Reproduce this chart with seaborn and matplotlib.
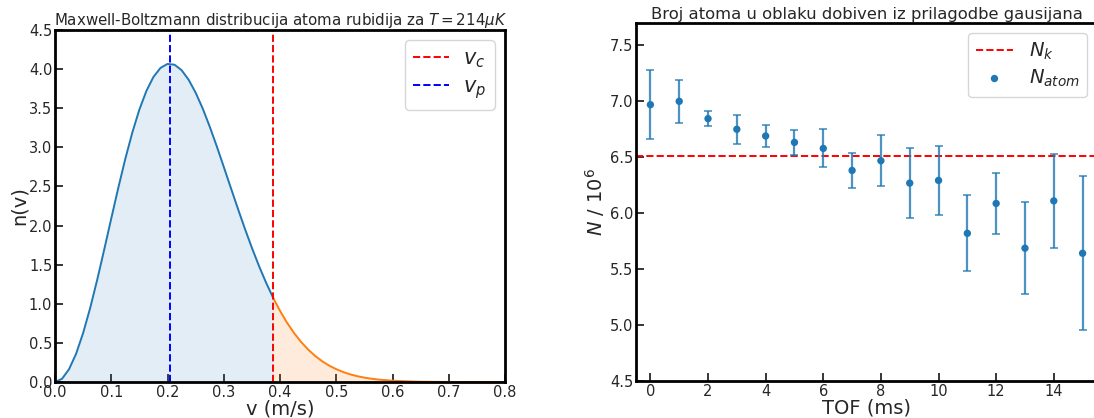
import numpy as np
import pandas as pd
import seaborn as sns
import matplotlib.pyplot as plt

# Maxwell-Boltzmann curve, values
v = [0.0, 0.0125, 0.025, 0.0375, 0.05, 0.0625, 0.075, 0.0875, 0.1, 0.1125,
     0.125, 0.1375, 0.15, 0.1625, 0.175, 0.1875, 0.2, 0.2125, 0.225, 0.2375,
     0.25, 0.2625, 0.275, 0.2875, 0.3, 0.3125, 0.325, 0.3375, 0.35, 0.3625,
     0.375, 0.388]
n_v = [0.0, 0.041, 0.164, 0.361, 0.626, 0.945, 1.306, 1.693, 2.090, 2.482,
       2.853, 3.190, 3.483, 3.721, 3.900, 4.015, 4.066, 4.056, 3.987, 3.865,
       3.699, 3.498, 3.266, 3.015, 2.751, 2.484, 2.219, 1.961, 1.716, 1.486,
       1.274, 1.074]
v_tail = [0.388, 0.4, 0.4125, 0.425, 0.4375, 0.45, 0.4625, 0.475, 0.4875,
          0.5, 0.5125, 0.525, 0.5375, 0.55, 0.5625, 0.575, 0.6, 0.625, 0.65,
          0.675, 0.7, 0.725, 0.75, 0.775, 0.8]
n_tail = [1.074, 0.910, 0.758, 0.626, 0.512, 0.415, 0.333, 0.265, 0.209,
          0.164, 0.127, 0.097, 0.074, 0.056, 0.042, 0.031, 0.017, 0.009,
          0.004, 0.002, 0.001, 0.0004, 0.0002, 0.0001, 0.0]
v_c = 0.388
v_p = 0.204

# atom number vs time of flight
tof = list(range(16))
n_atom = [6.97, 7.00, 6.845, 6.75, 6.69, 6.633, 6.579, 6.382, 6.469, 6.269,
          6.293, 5.82, 6.087, 5.687, 6.11, 5.642]
n_err = [0.31, 0.19, 0.07, 0.13, 0.10, 0.11, 0.17, 0.155, 0.23, 0.31,
         0.31, 0.34, 0.27, 0.41, 0.42, 0.69]
n_k = 6.513

sns.set_style('ticks')
plt.rcParams['font.family'] = ['DejaVu Sans']
plt.rcParams['mathtext.fontset'] = 'dejavusans'

fig = plt.figure(figsize=(10.94, 4.18), dpi=100)
W, H = 1094, 418
ax1 = fig.add_axes([55 / W, 1 - 382 / H, 450 / W, 352 / H])
ax2 = fig.add_axes([636 / W, 1 - 381 / H, 461 / W, 358 / H])

blue = '#1f77b4'
orange = '#ff7f0e'

# left panel
df_main = pd.DataFrame({'v': v, 'n': n_v})
df_tail = pd.DataFrame({'v': v_tail, 'n': n_tail})
sns.lineplot(data=df_main, x='v', y='n', ax=ax1, color=blue, lw=1.4)
sns.lineplot(data=df_tail, x='v', y='n', ax=ax1, color=orange, lw=1.4)
ax1.fill_between(v, n_v, color=blue, alpha=0.13, lw=0)
ax1.fill_between(v_tail, n_tail, color=orange, alpha=0.15, lw=0)
ax1.axvline(v_c, color='red', ls='--', lw=1.4, label='$v_c$')
ax1.axvline(v_p, color='blue', ls='--', lw=1.4, label='$v_p$')
ax1.set_xlim(0, 0.8)
ax1.set_ylim(0, 4.5)
ax1.set_xticks(np.arange(0, 0.81, 0.1))
ax1.set_yticks(np.arange(0, 4.51, 0.5))
ax1.set_xlabel('v (m/s)', fontsize=14, labelpad=0)
ax1.set_ylabel('n(v)', fontsize=14, labelpad=0)
ax1.set_title('Maxwell-Boltzmann distribucija atoma rubidija za $T = 214 \\mu K$',
              fontsize=10.8, pad=3)
ax1.legend(loc='upper right', fontsize=15, handlelength=1.7, borderpad=0.4,
           labelspacing=0.3, handletextpad=0.7)

# right panel
ax2.axhline(n_k, color='red', ls='--', lw=1.4, label='$N_k$')
ax2.errorbar(tof, n_atom, yerr=n_err, fmt='none', ecolor=blue, alpha=0.8,
             capsize=3, elinewidth=1.6, capthick=1.2)
sns.scatterplot(x=tof, y=n_atom, ax=ax2, color=blue, s=28, edgecolor='none',
                label='$N_{atom}$', zorder=3)
ax2.set_xlim(-0.5, 15.5)
ax2.set_ylim(4.5, 7.7)
ax2.set_xticks(range(0, 15, 2))
ax2.set_yticks(np.arange(4.5, 7.51, 0.5))
ax2.set_xlabel('TOF (ms)', fontsize=14, labelpad=0)
ax2.set_ylabel('$N$ / $10^6$', fontsize=14, labelpad=2)
ax2.set_title('Broj atoma u oblaku dobiven iz prilagodbe gausijana',
              fontsize=11.8, pad=3)
ax2.legend(loc='upper right', fontsize=14, handlelength=1.9, borderpad=0.4,
           labelspacing=0.3, handletextpad=0.8)

for ax in (ax1, ax2):
    ax.tick_params(direction='in', length=6, width=1.3, labelsize=10.5, pad=2)
    for s in ax.spines.values():
        s.set_linewidth(2)
        s.set_color('black')

fig.savefig('out.png', dpi=100)
